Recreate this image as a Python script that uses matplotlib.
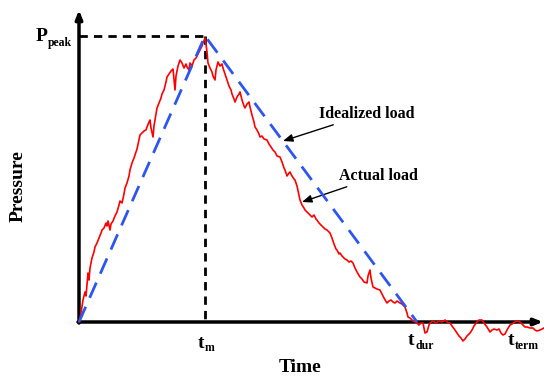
import matplotlib
matplotlib.use('Agg')
import matplotlib.pyplot as plt

# arbitrary units: time axis, pressure axis (no numeric ticks in the figure)
t_m = 126
t_dur = 338
t_term = 441
p_peak = 286

ideal_t = [0, t_m, t_dur]
ideal_p = [0, p_peak, 0]

actual_t = [0, 1, 2, 4, 6, 7, 8, 9, 10, 11, 13, 15, 16, 18, 20, 22, 23, 25, 27, 28,
            29, 31, 32, 34, 36, 38, 40, 41, 43, 45, 46, 48, 50, 51, 53, 55, 57, 58, 60, 61,
            63, 65, 67, 68, 70, 71, 72, 74, 75, 77, 78, 80, 82, 83, 85, 87, 88, 90, 92, 94,
            95, 96, 97, 99, 101, 103, 105, 107, 108, 110, 111, 113, 115, 117, 119, 121, 123, 124, 126,
            127, 128, 129, 131, 133, 134, 136, 137, 139, 141, 143, 144, 146, 148, 150, 152, 153,
            155, 156, 158, 160, 161, 163, 165, 166, 168, 170, 171, 173, 175, 176, 178, 180, 181,
            183, 185, 188, 190, 192, 194, 196, 198, 201, 203, 205, 206, 208, 210, 211, 213, 215,
            216, 218, 220, 221, 223, 225, 226, 228, 230, 233, 235, 237, 238, 240, 242, 244, 246,
            248, 251, 253, 255, 257, 258, 260, 261, 263, 266, 268, 270, 272, 274, 276, 278, 281,
            283, 285, 288, 289, 291, 292, 294, 296, 298, 301, 303, 305, 308, 310, 312, 314, 316,
            318, 321, 323, 325, 326, 328, 329, 331, 334, 337,
            340, 342, 344, 346, 348, 350, 351, 354, 357, 360, 363, 366, 368, 371, 373, 376, 378,
            380, 382, 384, 386, 388, 391, 393, 395, 398, 400, 403, 405, 408, 411, 413, 415, 418,
            420, 422, 424, 426, 428, 431, 433, 436, 438, 441, 443, 446, 448, 451, 454, 456, 458,
            461, 463, 465]
actual_p = [0, 4, 9, 22, 30, 26, 37, 49, 42, 54, 64, 70, 75, 79, 84, 89, 92, 94, 99, 96,
            101, 92, 98, 101, 106, 110, 117, 121, 119, 128, 134, 139, 146, 152, 159, 164, 170, 173, 182, 187,
            189, 191, 192, 195, 200, 202, 194, 185, 196, 208, 214, 219, 224, 228, 232, 240, 245, 248, 251, 253,
            242, 232, 246, 256, 262, 259, 254, 258, 255, 252, 259, 256, 262, 264, 268, 272, 276, 279, 284,
            278, 270, 259, 254, 250, 246, 242, 252, 260, 256, 258, 254, 248, 242, 236, 232, 228,
            223, 220, 225, 228, 230, 222, 216, 214, 218, 220, 215, 207, 200, 195, 192, 188, 185,
            186, 183, 182, 178, 175, 172, 170, 166, 165, 160, 154, 152, 146, 149, 150, 146, 143,
            142, 136, 127, 122, 117, 114, 112, 110, 108, 105, 107, 103, 102, 99, 97, 95, 93,
            92, 89, 84, 78, 73, 72, 68, 69, 66, 63, 62, 60, 61, 59, 54, 50, 45, 43, 40,
            39, 46, 52, 44, 35, 34, 33, 32, 28, 24, 19, 21, 22, 20, 19, 21, 19,
            18, 16, 15, 9, 5, 4, 1, 0,
            -3, -1, -1, -11, -10, -3, -1, 1, -1, 1, 0, 2, 0, -1, -4, -8, -11,
            -14, -16, -19, -17, -14, -11, -8, -4, 0, 2, 2, -1, -5, -10, -8, -7, -8,
            -7, -11, -13, -12, -8, -3, -2, 0, 1, 0, -2, -5, -5, -6, -6, -8, -9,
            -8, -7, -6]

serif = 'Liberation Serif'


def plot_load():
    fig = plt.figure(figsize=(5.44, 3.76), dpi=100)
    ax = fig.add_axes([0, 0, 1, 1])
    ax.set_xlim(-79, 465)
    ax.set_ylim(-54, 322)
    ax.axis('off')

    # guide lines to the peak
    ax.plot([0, t_m], [p_peak, p_peak], color='black', lw=2, dashes=(3, 2.2))
    ax.plot([t_m, t_m], [p_peak, 0], color='black', lw=2, dashes=(3, 2.2))

    ax.plot(actual_t, actual_p, color='#ff0000', lw=1.2, zorder=6)
    ax.plot(ideal_t, ideal_p, color='#2d55f0', lw=2, dashes=(6, 3.5), zorder=7)

    # axes with arrows
    arrow = dict(arrowstyle='-|>,head_length=0.5,head_width=0.2', lw=2.5, color='black',
                 shrinkA=0, shrinkB=0)
    ax.annotate('', xy=(0, 312), xytext=(0, -1), arrowprops=arrow, zorder=5,
                annotation_clip=False)
    ax.annotate('', xy=(464, 0), xytext=(-1, 0), arrowprops=arrow, zorder=5,
                annotation_clip=False)

    bold = dict(family=serif, fontweight='bold', color='black')
    ax.text(-43, 281, 'P', fontsize=14, ha='left', va='baseline', **bold)
    ax.text(-31, 276, 'peak', fontsize=8.5, ha='left', va='baseline', **bold)
    ax.text(-61, 136, 'Pressure', fontsize=14, rotation=90, ha='center', va='center', **bold)
    ax.text(221, -46, 'Time', fontsize=14, ha='center', va='center', **bold)

    ax.text(119, -26, 't', fontsize=14, ha='left', va='baseline', **bold)
    ax.text(126, -29, 'm', fontsize=8.5, ha='left', va='baseline', **bold)
    ax.text(329, -23, 't', fontsize=14, ha='left', va='baseline', **bold)
    ax.text(336, -27, 'dur', fontsize=8.5, ha='left', va='baseline', **bold)
    ax.text(429, -23, 't', fontsize=14, ha='left', va='baseline', **bold)
    ax.text(436, -27, 'term', fontsize=8.5, ha='left', va='baseline', **bold)

    pointer = dict(arrowstyle='-|>,head_length=0.5,head_width=0.2', lw=1, color='black',
                   shrinkA=0, shrinkB=0)
    ax.annotate('Idealized load', xy=(204, 181), xytext=(240, 208), fontsize=11.5,
                ha='left', va='center', arrowprops=pointer, **bold)
    ax.annotate('Actual load', xy=(223, 120), xytext=(260, 146), fontsize=11.5,
                ha='left', va='center', arrowprops=pointer, **bold)

    fig.savefig('out.png', dpi=100)


if __name__ == '__main__':
    plot_load()
